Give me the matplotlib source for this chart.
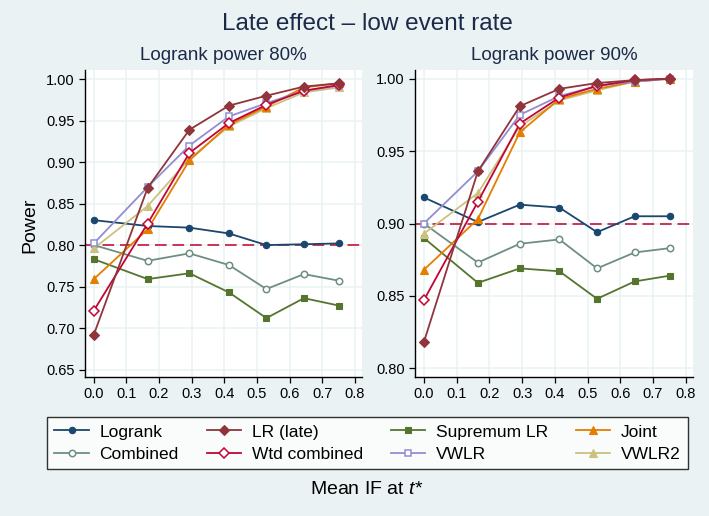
#!/usr/bin/env python3
"""Late effect - low event rate: power by mean IF, two logrank power panels."""

import matplotlib

matplotlib.use("Agg")
import matplotlib.pyplot as plt

# mean information fraction at t*
mean_if = [0.0, 0.165, 0.293, 0.414, 0.529, 0.644, 0.752]

# panel 1: logrank power 80%
p80_logrank = [0.830, 0.823, 0.821, 0.814, 0.800, 0.801, 0.802]
p80_lr_late = [0.692, 0.869, 0.939, 0.968, 0.980, 0.991, 0.995]
p80_supremum = [0.783, 0.759, 0.766, 0.743, 0.712, 0.736, 0.727]
p80_joint = [0.759, 0.819, 0.902, 0.945, 0.967, 0.990, 0.995]
p80_combined = [0.800, 0.781, 0.790, 0.776, 0.747, 0.765, 0.757]
p80_wtd_combined = [0.721, 0.826, 0.911, 0.947, 0.969, 0.986, 0.993]
p80_vwlr = [0.802, 0.870, 0.920, 0.955, 0.971, 0.986, 0.992]
p80_vwlr2 = [0.796, 0.847, 0.904, 0.943, 0.965, 0.984, 0.990]

# panel 2: logrank power 90%
p90_logrank = [0.918, 0.901, 0.913, 0.911, 0.894, 0.905, 0.905]
p90_lr_late = [0.818, 0.936, 0.981, 0.993, 0.997, 0.999, 1.000]
p90_supremum = [0.890, 0.859, 0.869, 0.867, 0.848, 0.860, 0.864]
p90_joint = [0.868, 0.903, 0.963, 0.986, 0.993, 0.998, 1.000]
p90_combined = [0.900, 0.873, 0.886, 0.889, 0.869, 0.880, 0.883]
p90_wtd_combined = [0.847, 0.915, 0.969, 0.987, 0.995, 0.999, 1.000]
p90_vwlr = [0.900, 0.936, 0.975, 0.988, 0.995, 0.998, 1.000]
p90_vwlr2 = [0.893, 0.921, 0.967, 0.985, 0.992, 0.998, 1.000]

x_ticks = [0.0, 0.1, 0.2, 0.3, 0.4, 0.5, 0.6, 0.7, 0.8]
y_ticks_80 = [0.65, 0.70, 0.75, 0.80, 0.85, 0.90, 0.95, 1.00]
y_ticks_90 = [0.80, 0.85, 0.90, 0.95, 1.00]

BG = "#eaf2f3"
TXT = "#1c2a4a"
plt.rcParams["font.family"] = ["Liberation Sans", "DejaVu Sans"]
plt.rcParams["mathtext.fontset"] = "custom"
plt.rcParams["mathtext.it"] = "Liberation Sans:italic"
plt.rcParams["mathtext.rm"] = "Liberation Sans"

# name -> (colour, marker, hollow)
styles = {
    "Logrank": ("#1a476f", "o", False),
    "LR (late)": ("#90353b", "D", False),
    "Supremum LR": ("#55752f", "s", False),
    "Joint": ("#e37e00", "^", False),
    "Combined": ("#6e8e84", "o", True),
    "Wtd combined": ("#c10534", "D", True),
    "VWLR": ("#938dd2", "s", True),
    "VWLR2": ("#cac27e", "^", False),
}

panels = [
    ("Logrank power 80%", 0.80, y_ticks_80, (0.641, 1.011), {
        "Logrank": p80_logrank, "LR (late)": p80_lr_late, "Supremum LR": p80_supremum,
        "Joint": p80_joint, "Combined": p80_combined, "Wtd combined": p80_wtd_combined,
        "VWLR": p80_vwlr, "VWLR2": p80_vwlr2}),
    ("Logrank power 90%", 0.90, y_ticks_90, (0.794, 1.006), {
        "Logrank": p90_logrank, "LR (late)": p90_lr_late, "Supremum LR": p90_supremum,
        "Joint": p90_joint, "Combined": p90_combined, "Wtd combined": p90_wtd_combined,
        "VWLR": p90_vwlr, "VWLR2": p90_vwlr2}),
]

W, H = 709, 516
fig = plt.figure(figsize=(W / 100, H / 100), dpi=100, facecolor=BG)

boxes = [(85, 70, 277, 307), (415, 70, 278, 307)]
handles = {}
for (title, ref, yticks, ylim, series), (x0, y0, w, h) in zip(panels, boxes):
    ax = fig.add_axes([x0 / W, 1 - (y0 + h) / H, w / W, h / H])
    ax.set_facecolor("white")
    for name in ["Logrank", "Combined", "Supremum LR", "VWLR2", "Joint", "VWLR", "Wtd combined", "LR (late)"]:
        color, marker, hollow = styles[name]
        ms = 6.0 if marker == "^" else 4.6
        (ln,) = ax.plot(mean_if, series[name], color=color, lw=1.3, marker=marker,
                        ms=ms, mfc="white" if hollow else color, mec=color,
                        mew=1.1 if hollow else 0.8, zorder=3)
        handles[name] = ln
    ax.axhline(ref, color="#cc3355", lw=1.4, dashes=(6, 3), zorder=2)
    ax.set_xlim(-0.027, 0.822)
    ax.set_ylim(*ylim)
    ax.set_xticks(x_ticks)
    ax.set_xticklabels([f"{t:.1f}" for t in x_ticks])
    ax.set_yticks(yticks)
    ax.set_yticklabels([f"{t:.2f}" for t in yticks])
    ax.grid(True, color=BG, lw=1.1, zorder=0)
    ax.set_axisbelow(True)
    for s in ["top", "right"]:
        ax.spines[s].set_visible(False)
    for s in ["left", "bottom"]:
        ax.spines[s].set_color("black")
        ax.spines[s].set_linewidth(1.0)
    ax.tick_params(labelsize=10.5, colors="black", length=4, width=0.9, direction="out")
    ax.set_title(title, fontsize=13.5, color=TXT, pad=7)

fig.text(367 / W, 1 - 24 / H, "Late effect \u2013 low event rate", ha="center", va="center",
         fontsize=17.5, color=TXT)
fig.text(30 / W, 1 - 225 / H, "Power", ha="center", va="center", rotation=90,
         fontsize=14, color="black")
fig.text(367 / W, 1 - 489 / H, r"Mean IF at $t$*", ha="center", va="center",
         fontsize=14, color="black")

order = ["Logrank", "Combined", "LR (late)", "Wtd combined", "Supremum LR", "VWLR", "Joint", "VWLR2"]
leg = fig.legend([handles[n] for n in order], order, loc="center", ncol=4,
                 bbox_to_anchor=(367.5 / W, 1 - 443 / H), fontsize=12.5, frameon=True,
                 fancybox=False, edgecolor="black", handlelength=2.0, columnspacing=1.6,
                 labelspacing=0.4, borderpad=0.45, handletextpad=0.6)
leg.get_frame().set_linewidth(1.0)

fig.savefig("out.png", dpi=100, facecolor=BG)
